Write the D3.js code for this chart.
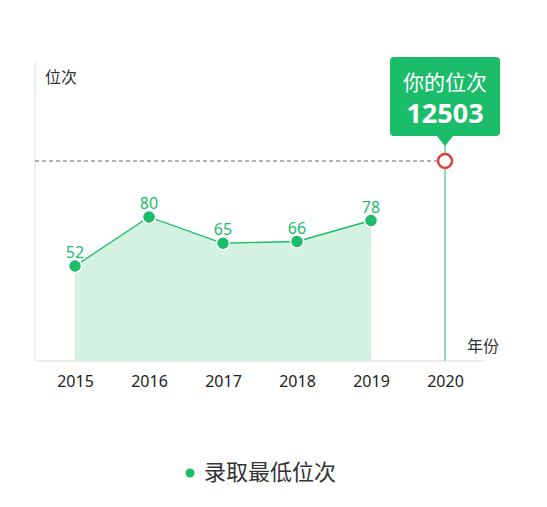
<!DOCTYPE html>
<html>
<head>
<meta charset="utf-8">
<script src="https://cdn.jsdelivr.net/npm/d3@7"></script>
<style>
  body { margin: 0; background: #fff; }
  text { font-family: "Noto Sans", "Noto Sans CJK SC", sans-serif; }
</style>
</head>
<body>
<svg id="chart" width="547" height="507"></svg>
<script>
var years = ["2015", "2016", "2017", "2018", "2019", "2020"],
    ranks = [52, 80, 65, 66, 78],
    yourRank = "12503",
    yourLevel = 112; // where the marker sits on the chart scale

var green = "#1bbd6a",
    width = 547,
    height = 507;

var svg = d3.select("#chart");

var x = d3.scalePoint()
    .domain(years)
    .range([75, 445]);

var y = d3.scaleLinear()
    .domain([0, 160])
    .range([357, 77]);

var bottom = 361;

// axes lines
svg.append("line")
    .attr("x1", 35).attr("x2", 35)
    .attr("y1", 62).attr("y2", bottom)
    .attr("stroke", "#eeeeee").attr("stroke-width", 2);

svg.append("line")
    .attr("x1", 35).attr("x2", 485)
    .attr("y1", bottom).attr("y2", bottom)
    .attr("stroke", "#eeeeee").attr("stroke-width", 2);

var xAxis = d3.axisBottom(x).tickSize(0).tickPadding(15);
var gx = svg.append("g")
    .attr("transform", "translate(0," + bottom + ")")
    .call(xAxis);
gx.select(".domain").remove();
gx.selectAll("text")
    .style("font-size", "16px")
    .attr("fill", "#222");

svg.append("text")
    .attr("x", 45).attr("y", 83)
    .attr("font-size", 16)
    .attr("fill", "#333")
    .text("位次");

svg.append("text")
    .attr("x", 467).attr("y", 352)
    .attr("font-size", 16)
    .attr("fill", "#333")
    .text("年份");

var data = ranks.map(function(d, i) { return {year: years[i], value: d}; });

// area
var area = d3.area()
    .x(function(d) { return x(d.year); })
    .y0(bottom)
    .y1(function(d) { return y(d.value); });

svg.append("path")
    .datum(data)
    .attr("d", area)
    .attr("fill", "#d3f2e1");

var line = d3.line()
    .x(function(d) { return x(d.year); })
    .y(function(d) { return y(d.value); });

svg.append("path")
    .datum(data)
    .attr("d", line)
    .attr("fill", "none")
    .attr("stroke", green)
    .attr("stroke-width", 1.3);

// dashed line to your rank
var markY = y(yourLevel);
svg.append("line")
    .attr("x1", 35).attr("x2", x("2020"))
    .attr("y1", markY).attr("y2", markY)
    .attr("stroke", "#999").attr("stroke-width", 1.3)
    .attr("stroke-dasharray", "4,3");

// vertical line at 2020
svg.append("line")
    .attr("x1", x("2020")).attr("x2", x("2020"))
    .attr("y1", 140).attr("y2", bottom)
    .attr("stroke", "#8fdcb2").attr("stroke-width", 2);

var pts = svg.selectAll(".pt")
    .data(data)
    .enter().append("g")
    .attr("transform", function(d) {
      return "translate(" + x(d.year) + "," + y(d.value) + ")";
    });

pts.append("circle")
    .attr("r", 6.5)
    .attr("fill", green)
    .attr("stroke", "#fff")
    .attr("stroke-width", 1.5);

pts.append("text")
    .attr("y", -8)
    .attr("text-anchor", "middle")
    .attr("font-size", 16)
    .attr("fill", green)
    .text(function(d) { return d.value; });

svg.append("circle")
    .attr("cx", x("2020")).attr("cy", markY)
    .attr("r", 7)
    .attr("fill", "#fff")
    .attr("stroke", "#d9413a")
    .attr("stroke-width", 2.5);

// tooltip box
var tx = x("2020");
var tip = svg.append("g");
tip.append("rect")
    .attr("x", tx - 55).attr("y", 57)
    .attr("width", 110).attr("height", 79)
    .attr("rx", 4)
    .attr("fill", green);
tip.append("path")
    .attr("d", "M" + (tx - 9) + ",135 L" + tx + ",146 L" + (tx + 9) + ",135 Z")
    .attr("fill", green);
tip.append("text")
    .attr("x", tx).attr("y", 90)
    .attr("text-anchor", "middle")
    .attr("font-size", 21)
    .attr("fill", "#fff")
    .text("你的位次");
tip.append("text")
    .attr("x", tx).attr("y", 123)
    .attr("text-anchor", "middle")
    .attr("font-size", 27)
    .attr("font-weight", "bold")
    .attr("fill", "#fff")
    .text(yourRank);

// legend
svg.append("circle")
    .attr("cx", 190).attr("cy", 473)
    .attr("r", 4.5)
    .attr("fill", green);
svg.append("text")
    .attr("x", 204).attr("y", 480)
    .attr("font-size", 22)
    .attr("fill", "#333")
    .text("录取最低位次");
</script>
</body>
</html>
